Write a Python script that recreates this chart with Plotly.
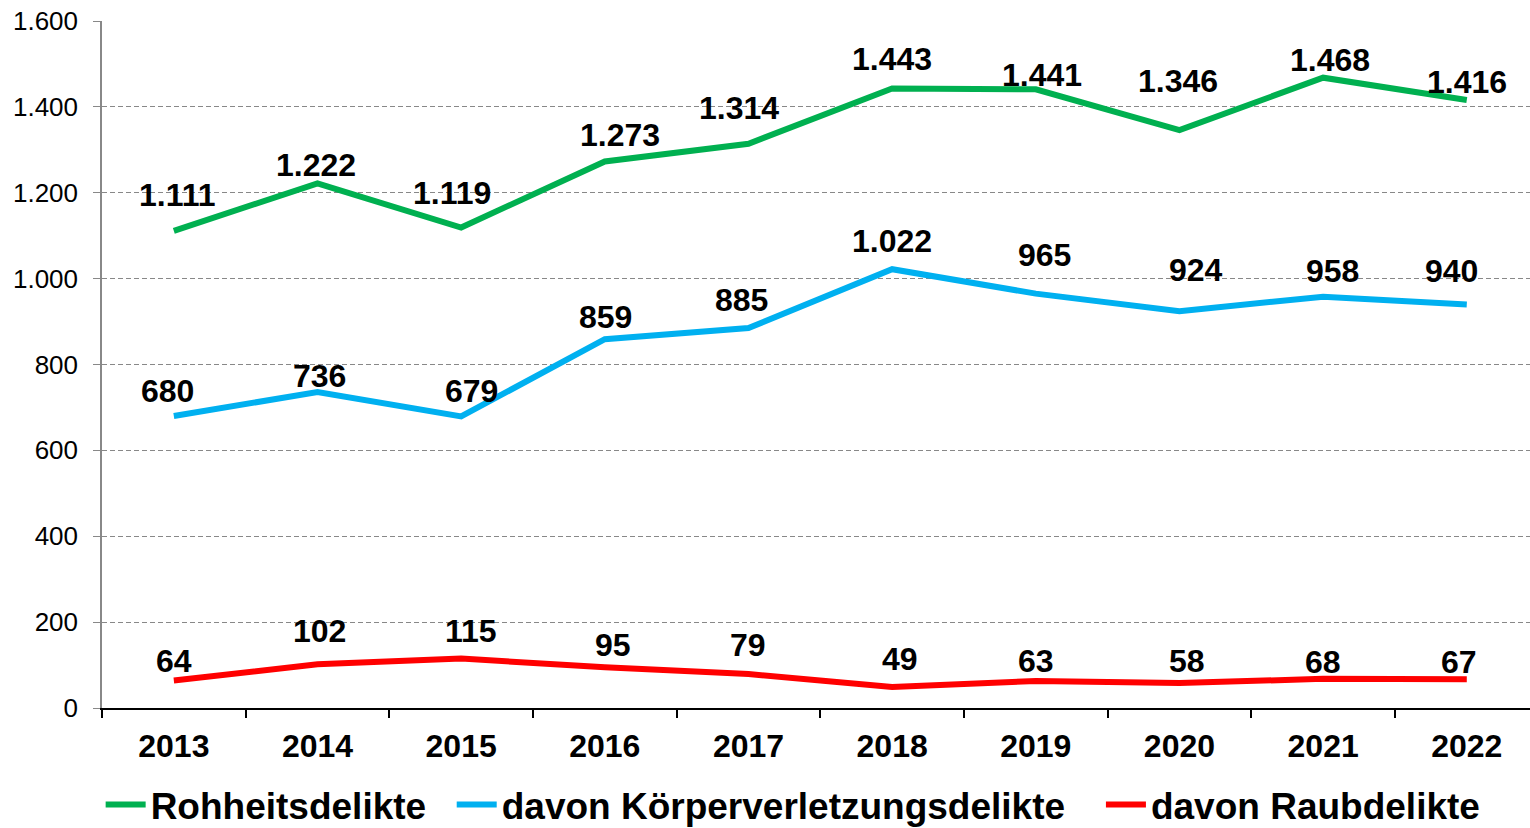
import plotly.graph_objects as go

years = ["2013", "2014", "2015", "2016", "2017", "2018", "2019", "2020", "2021", "2022"]
rohheit = [1111, 1222, 1119, 1273, 1314, 1443, 1441, 1346, 1468, 1416]
koerper = [680, 736, 679, 859, 885, 1022, 965, 924, 958, 940]
raub = [64, 102, 115, 95, 79, 49, 63, 58, 68, 67]

names = ["Rohheitsdelikte", "davon Körperverletzungsdelikte", "davon Raubdelikte"]
colors = ["#00B050", "#00B0F0", "#FF0000"]

# label offsets (px) for data labels
off_g = [(4, -36), (-1, -18), (-9, -35), (15, -26), (-9, -36), (0, -29), (6, -14), (-1, -49), (7, -18), (0, -18)]
off_b = [(-6, -25), (2, -16), (10, -25), (1, -22), (-7, -28), (0, -28), (9, -39), (17, -41), (9, -26), (-15, -33)]
off_r = [(0, -20), (2, -33), (10, -28), (8, -22), (0, -29), (8, -28), (0, -20), (8, -22), (0, -17), (-8, -17)]
pad = ["\u00a0\u00a0", "\u00a0\u00a0\u00a0", ""]

def fmt(v):
    return f"{v:,}".replace(",", ".")

FONT = "Liberation Sans, Arial, sans-serif"
fig = go.Figure()
anns = []
for series, name, col, offs, p in [(rohheit, names[0], colors[0], off_g, pad[0]),
                                    (koerper, names[1], colors[1], off_b, pad[1]),
                                    (raub, names[2], colors[2], off_r, pad[2])]:
    fig.add_trace(go.Scatter(x=years, y=series, mode="lines", name=f"<b>{name}{p}</b>",
                             line=dict(color=col, width=6)))
    for i, (v, (dx, dy)) in enumerate(zip(series, offs)):
        anns.append(dict(x=i, y=v, xref="x", yref="y", text=f"<b>{fmt(v)}</b>",
                         showarrow=False, xshift=dx, yshift=-dy,
                         font=dict(size=32, color="black", family=FONT)))

fig.update_layout(
    width=1530, height=828,
    margin=dict(l=102, r=0, t=21, b=120, autoexpand=False),
    paper_bgcolor="white", plot_bgcolor="white",
    font=dict(family=FONT, color="black"),
    annotations=anns,
    showlegend=True,
    separators=",.",
    legend=dict(orientation="h", x=0.484, xanchor="center", y=-0.1412, yanchor="middle",
                font=dict(size=37, color="black"), itemwidth=40,
                traceorder="normal"),
)
fig.update_xaxes(type="category", range=[-0.5, 9.44], tickson="boundaries",
                 ticks="outside", ticklen=8, tickcolor="black", tickwidth=1.5,
                 showline=True, linecolor="black", linewidth=1.5, automargin=False,
                 showgrid=False, tickfont=dict(size=32), ticklabelstandoff=9,
                 tickprefix="<b>", ticksuffix="</b>")
fig.update_yaxes(range=[0, 1600], dtick=200, tickformat=",", automargin=False,
                 ticks="outside", ticklen=7, tickcolor="#888888",
                 showline=True, linecolor="#888888", linewidth=1.5,
                 showgrid=True, gridcolor="#888888", griddash="5px,3px", gridwidth=1,
                 zeroline=False, tickfont=dict(size=26), ticklabelstandoff=10)
fig.write_html("out.html", config={"displayModeBar": False},
               post_script="document.body.style.margin='0px';")
